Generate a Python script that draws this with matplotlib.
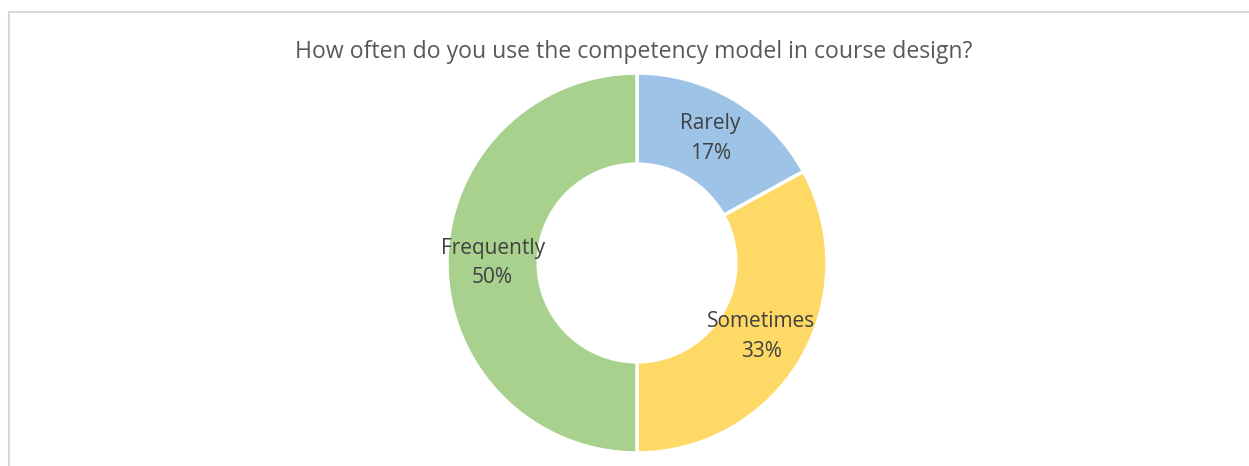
import numpy as np
import matplotlib
matplotlib.use("Agg")
import matplotlib.pyplot as plt
from matplotlib.patches import Rectangle

# Datos
categorias = ["Rarely", "Sometimes", "Frequently"]
valores = [17, 33, 50]
colores = ["#9DC3E6", "#FFD966", "#A9D18E"]
titulo = "How often do you use the competency model in course design?"

plt.rcParams["font.family"] = ["Open Sans", "DejaVu Sans"]

W, H = 1249, 466
fig = plt.figure(figsize=(W / 100, H / 100), dpi=100)

# Marco del gráfico (gris claro, recortado a la derecha y abajo)
fig.patches.append(Rectangle((9 / W, -0.1), 1.2, 1.1 - 12.5 / H, transform=fig.transFigure,
                             fill=False, edgecolor="#D9D9D9", linewidth=1.5))

cx, cy, r = 637, 263, 190
ax = fig.add_axes([(cx - r) / W, (H - cy - r) / H, 2 * r / W, 2 * r / H])
hueco = 0.52
wedges, _ = ax.pie(valores, colors=colores, startangle=90, counterclock=False, radius=1,
                   wedgeprops=dict(width=1 - hueco, edgecolor="white", linewidth=2.5))
ax.set_xlim(-1, 1)
ax.set_ylim(-1, 1)
ax.set_aspect("equal")

total = sum(valores)
rm = (1 + hueco) / 2
for w, cat, v in zip(wedges, categorias, valores):
    ang = np.deg2rad((w.theta1 + w.theta2) / 2)
    ax.text(rm * np.cos(ang), rm * np.sin(ang), f"{cat}\n{round(100 * v / total)}%",
            ha="center", va="center", fontsize=15, color="#404040", linespacing=1.55)

fig.text(634 / W, 1 - 52 / H, titulo, ha="center", va="center", fontsize=16.6, color="#595959")

fig.savefig("out.png", dpi=100)
